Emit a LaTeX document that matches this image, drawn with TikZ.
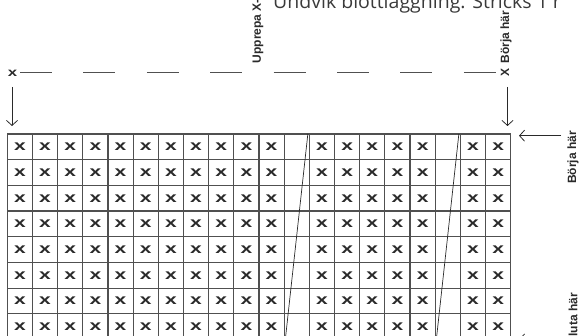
\documentclass[tikz,border=0pt]{standalone}
\usepackage{fontspec}
\setmainfont{Liberation Sans}
\newfontfamily\topfont{Open Sans}
\usetikzlibrary{arrows.meta}
\definecolor{gridgray}{HTML}{505050}
\definecolor{inkdark}{HTML}{2A2A2A}
\definecolor{titlegray}{HTML}{3A3A3A}
\begin{document}
\begin{tikzpicture}[x=1pt,y=-1pt,
  gridline/.style={draw=gridgray,line width=1.2pt},
  slantline/.style={draw=inkdark,line width=0.7pt},
  cross/.style={text=inkdark,inner sep=0pt,font=\bfseries\fontsize{14.5}{15}\selectfont},
  lbl/.style={text=inkdark,inner sep=0pt,font=\bfseries\fontsize{12}{14}\selectfont},
  vlbl/.style={lbl,rotate=90},
  arr/.style={draw=inkdark,line width=0.8pt,-{Straight Barb[length=5pt,width=11pt]}},
  dashline/.style={draw=gridgray,line width=1pt,dash pattern=on 32pt off 31.4pt}]
\useasboundingbox (0,0) rectangle (579,336);
\clip (0,0) rectangle (579,336);
% title (cut off at the top)
\node[anchor=base west,inner sep=0pt,text=titlegray,font=\topfont\fontsize{19.5}{20}\selectfont] (title) at (273,8.3) {Undvik blottläggning. Stricks 1 r};
% top labels
\node[text=inkdark,inner sep=0pt,font=\bfseries\fontsize{12}{13}\selectfont] (lx) at (12.5,73) {\scalebox{1.4}[1]{x}};
\coordinate (dstart) at (20,73);
\coordinate (dend) at (496,73);
\draw[dashline] (dstart) -- (dend);
\node[vlbl,anchor=west] (rep) at (258,63.5) {Upprepa X-};
\node[vlbl,anchor=west] (startTop) at (506,77) {X\, Börja här};
\coordinate (la1) at (12,87);
\coordinate (la2) at (12,126);
\coordinate (ra1) at (507.5,87);
\coordinate (ra2) at (507.5,126);
\draw[arr] (la1) -- (la2);
\draw[arr] (ra1) -- (ra2);
% right side labels
\coordinate (sa1) at (561,135.7);
\coordinate (sa2) at (519,135.7);
\draw[arr] (sa1) -- (sa2);
\node[vlbl,anchor=west] (startRight) at (573,184) {Börja här};
\coordinate (ea1) at (561,339.5);
\coordinate (ea2) at (519,339.5);
\draw[arr] (ea1) -- (ea2);
\node[vlbl,anchor=east] (endRight) at (573,293) {Sluta här};
% grid
\foreach \r in {0,...,8}
  \draw[gridline] (7.3,{134+25.7*\r}) -- (510.7,{134+25.7*\r});
\foreach \c in {0,...,20}
  \draw[gridline] ({7.3+25.17*\c},134) -- ({7.3+25.17*\c},350);
\foreach \c in {0,...,10,12,13,14,15,16,18,19}
  \foreach \r in {0,...,7}
    \node[cross] (x-\c-\r) at ({7.3+25.17*(\c+0.5)},{134+25.7*(\r+0.5)}) {\scalebox{1.45}[1]{x}};
\foreach \c in {11,17}
  \draw[slantline] ({7.3+25.17*(\c+1)-1.5},134) -- ({7.3+25.17*\c},350);
\end{tikzpicture}
\end{document}
